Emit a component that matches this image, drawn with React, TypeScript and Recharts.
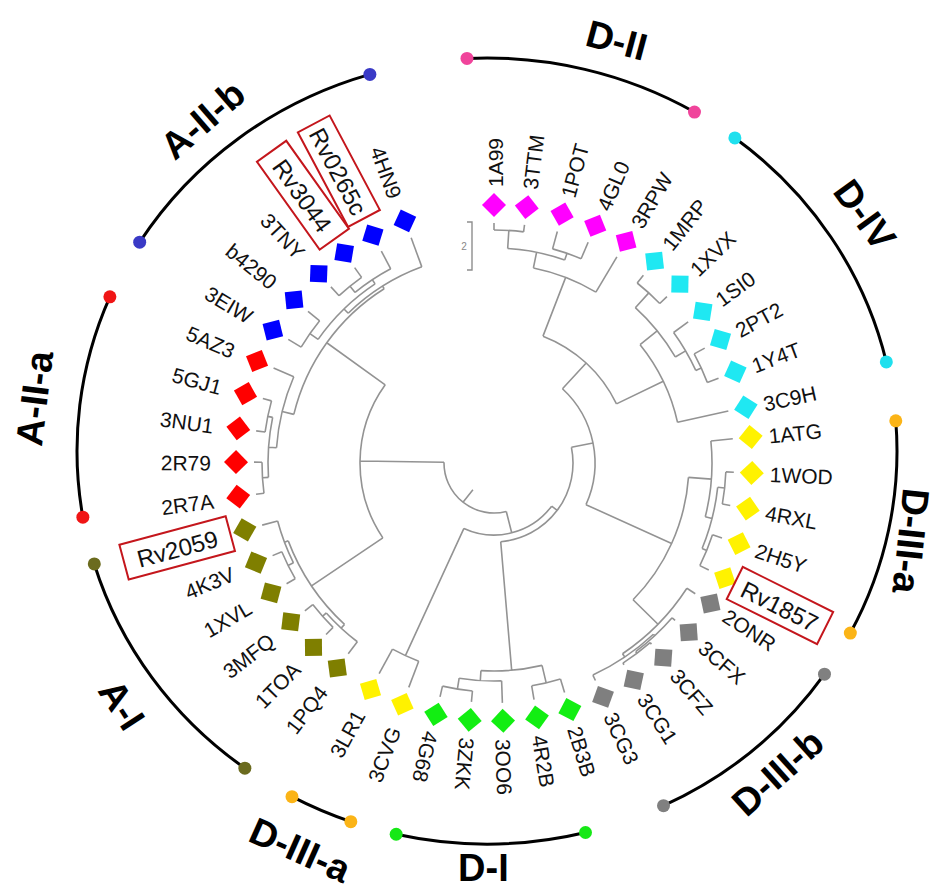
import React from 'react';
import { ScatterChart, Scatter, XAxis, YAxis } from 'recharts';

const WIDTH = 941;
const HEIGHT = 896;
const CENTER_X = 494;
const CENTER_Y = 463;
const RAD = Math.PI / 180;

// ---- leaves (clockwise from the top) ----
const leafNames = ['1A99', '3TTM', '1POT', '4GL0', '3RPW', '1MRP', '1XVX', '1SI0', '2PT2', '1Y4T', '3C9H',
  '1ATG', '1WOD', '4RXL', '2H5Y', 'Rv1857', '2ONR', '3CFX', '3CFZ', '3CG1', '3CG3',
  '2B3B', '4R2B', '3OO6', '3ZKK', '4G68', '3CVG', '3LR1', '1PQ4', '1TOA', '3MFQ', '1XVL', '4K3V', 'Rv2059',
  '2R7A', '2R79', '3NU1', '5GJ1', '5AZ3', '3EIW', 'b4290', '3TNY', 'Rv3044', 'Rv0265c', '4HN9'];
const leafAngles = [0, 7.3, 15.3, 23.1, 30.8, 38.5, 46.1, 54, 61.4, 69.3, 77.5,
  84.2, 92.2, 100.2, 108.2, 116.5, 123, 131, 139, 147.2, 155,
  162.9, 170.4, 178, 185.4, 193, 200.8, 208.6, 217.4, 224.4, 232, 239.8, 247.3, 255,
  262.5, 270.2, 277.7, 285.6, 293.3, 301, 309.2, 317.2, 324.5, 332, 339.8];
const leafClades = ['D-II', 'D-II', 'D-II', 'D-II', 'D-II', 'D-IV', 'D-IV', 'D-IV', 'D-IV', 'D-IV', 'D-IV',
  'D-III-a', 'D-III-a', 'D-III-a', 'D-III-a', 'D-III-a', 'D-III-b', 'D-III-b', 'D-III-b', 'D-III-b', 'D-III-b',
  'D-I', 'D-I', 'D-I', 'D-I', 'D-I', 'D-III-a', 'D-III-a', 'A-I', 'A-I', 'A-I', 'A-I', 'A-I', 'A-I',
  'A-II-a', 'A-II-a', 'A-II-a', 'A-II-a', 'A-II-a', 'A-II-b', 'A-II-b', 'A-II-b', 'A-II-b', 'A-II-b', 'A-II-b'];
const leafColors: Record<string, string> = {
  'D-II': '#FF00FF', 'D-IV': '#1FE8F2', 'D-III-a': '#FFF200', 'D-III-b': '#7F7F7F',
  'D-I': '#12EE12', 'A-I': '#7F7F00', 'A-II-a': '#FF0000', 'A-II-b': '#0000FF',
};

// highlighted labels with red boxes (box extent as radii)
const boxedNames = ['Rv1857', 'Rv2059', 'Rv3044', 'Rv0265c'];
const boxInnerR = [269, 273, 275, 277];
const boxOuterR = [370, 383, 383, 384];

// ---- tree: [node, radius, children] listed bottom-up ----
const treeNodes: [string, number, string[]][] = [
  ['n1', 233, ['1A99', '3TTM']],
  ['n2', 222, ['1POT', '4GL0']],
  ['n3', 215, ['n1', 'n2']],
  ['nDII', 199, ['n3', '3RPW']],
  ['n4', 230, ['1MRP', '1XVX']],
  ['n5', 228, ['2PT2', '1Y4T']],
  ['n6', 222, ['1SI0', 'n5']],
  ['n7', 210, ['n4', 'n6']],
  ['nDIV', 188, ['n7', '3C9H']],
  ['nTop', 136, ['nDII', 'nDIV']],
  ['n8', 232, ['1WOD', '4RXL']],
  ['n9', 230, ['2H5Y', 'Rv1857']],
  ['n10', 225, ['n8', 'n9']],
  ['nYel', 218, ['1ATG', 'n10']],
  ['n11', 238, ['3CFZ', '3CG1']],
  ['n12', 236, ['3CFX', 'n11']],
  ['n13', 234, ['n12', '3CG3']],
  ['nGray', 230, ['2ONR', 'n13']],
  ['nDIII', 195, ['nYel', 'nGray']],
  ['nR1', 101, ['nTop', 'nDIII']],
  ['n14', 229, ['3ZKK', '4G68']],
  ['n15', 218, ['3OO6', 'n14']],
  ['n16', 226, ['2B3B', '4R2B']],
  ['nDI', 208, ['n16', 'n15']],
  ['nR2', 79, ['nR1', 'nDI']],
  ['n17', 212, ['3CVG', '3LR1']],
  ['nR3', 72, ['nR2', 'n17']],
  ['n19', 230, ['1TOA', '3MFQ']],
  ['n18', 225, ['1PQ4', 'n19']],
  ['n20', 230, ['1XVL', '4K3V']],
  ['n21', 224, ['n20', 'Rv2059']],
  ['nAI', 220, ['n18', 'n21']],
  ['n22', 232, ['2R7A', '2R79']],
  ['n23', 231, ['3NU1', '5GJ1']],
  ['n24', 226, ['n22', 'n23']],
  ['nRed', 218, ['n24', '5AZ3']],
  ['n25', 225, ['3EIW', 'b4290']],
  ['n26', 228, ['3TNY', 'Rv3044']],
  ['n27', 220, ['n26', 'Rv0265c']],
  ['n28', 215, ['n25', 'n27']],
  ['nBlue', 209, ['n28', '4HN9']],
  ['nAII', 206, ['nRed', 'nBlue']],
  ['nX', 134, ['nAI', 'nAII']],
  ['root', 50, ['nR3', 'nX']],
];
const LEAF_TIP_R = 240;
const ROOT_STUB_R = 34;

// ---- clade arcs (elliptical, angles are parametric, clockwise from top) ----
const cladeNames = ['D-II', 'D-IV', 'D-III-a', 'D-III-b', 'D-I', 'D-III-a', 'A-I', 'A-II-a', 'A-II-b'];
const cladeArcStart = [-2.8, 37.2, 85.6, 124.6, 166.1, 199.4, 216.2, 260.3, 302.1];
const cladeArcEnd = [30.4, 76.9, 117.6, 154.5, 192.8, 208.4, 253.3, 293.1, 343.4];
const cladeDotColors = ['#F0449B', '#1FE0EE', '#FBB417', '#808080', '#16E816', '#FBB417', '#6B6B1E', '#F01515', '#3A3AC6'];
const cladeLabelAngle = [16.2, 56.2, 100.6, 137.5, 181.5, 206.6, 237, 278, 319.7];
const cladeLabelRadius = [440, 446, 424, 420, 405, 433, 444, 464, 450];
const cladeLabelRotation = [15, 54, 96, -42, 0, 24, 57, -83, -41];
const ARC_CENTER = { x: -7, y: 12 };
const ARC_RX = 410;
const ARC_RY = 393;

// scale bar
const scaleBarValue = '2';
const scaleBarLength = 48;

// ---------------- layout ----------------
const angleOf = new Map<string, number>();
const radiusOf = new Map<string, number>();
const parentR = new Map<string, number>();
leafNames.forEach((n, i) => { angleOf.set(n, leafAngles[i]); radiusOf.set(n, LEAF_TIP_R); });
const arcSpan = new Map<string, [number, number]>();
treeNodes.forEach(([id, r, kids]) => {
  const angs = kids.map((k) => angleOf.get(k) as number);
  const a0 = Math.min(...angs);
  const a1 = Math.max(...angs);
  angleOf.set(id, (a0 + a1) / 2);
  radiusOf.set(id, r);
  arcSpan.set(id, [a0, a1]);
  kids.forEach((k) => parentR.set(k, r));
});
parentR.set('root', ROOT_STUB_R);

const branchData = [...leafNames, ...treeNodes.map((t) => t[0])].map((id) => {
  const a = angleOf.get(id) as number;
  const r = radiusOf.get(id) as number;
  const span = arcSpan.get(id);
  return {
    id, a, r, pr: parentR.get(id) as number,
    a0: span ? span[0] : null, a1: span ? span[1] : null,
    x: r * Math.sin(a * RAD), y: r * Math.cos(a * RAD),
  };
});

const DIAMOND_R = 258;
const LABEL_R_OUT = 276;
const LABEL_R_IN = 283;

const diamondData = leafNames.map((n, i) => ({
  name: n, a: leafAngles[i], color: leafColors[leafClades[i]],
  x: DIAMOND_R * Math.sin(leafAngles[i] * RAD), y: DIAMOND_R * Math.cos(leafAngles[i] * RAD),
}));

const labelData = leafNames.map((n, i) => {
  const a = leafAngles[i];
  const flip = a > 196 && a < 350;
  const lr = flip ? LABEL_R_IN : LABEL_R_OUT;
  const bi = boxedNames.indexOf(n);
  return {
    name: n, a, flip, lr, boxed: bi >= 0,
    bIn: bi >= 0 ? boxInnerR[bi] : 0, bOut: bi >= 0 ? boxOuterR[bi] : 0,
    x: lr * Math.sin(a * RAD), y: lr * Math.cos(a * RAD),
  };
});

const arcData = cladeNames.map((n, i) => ({
  name: n, a0: cladeArcStart[i], a1: cladeArcEnd[i], x: ARC_CENTER.x, y: ARC_CENTER.y,
}));
const dotData = cladeNames.flatMap((n, i) => [cladeArcStart[i], cladeArcEnd[i]].map((t) => ({
  name: n, color: cladeDotColors[i],
  x: ARC_CENTER.x + ARC_RX * Math.sin(t * RAD), y: ARC_CENTER.y + ARC_RY * Math.cos(t * RAD),
})));
const cladeLabelData = cladeNames.map((n, i) => ({
  name: n, rot: cladeLabelRotation[i],
  x: cladeLabelRadius[i] * Math.sin(cladeLabelAngle[i] * RAD),
  y: cladeLabelRadius[i] * Math.cos(cladeLabelAngle[i] * RAD),
}));
const scaleData = [{ x: -22, y: 217, label: scaleBarValue, len: scaleBarLength }];

// ---------------- shapes ----------------
const FONT = 'Arial, "Liberation Sans", Helvetica, sans-serif';
const pt = (ox: number, oy: number, r: number, a: number) => [ox + r * Math.sin(a * RAD), oy - r * Math.cos(a * RAD)];

const BranchShape = (props: any) => {
  const { cx, cy, payload } = props;
  const ox = cx - payload.x;
  const oy = cy + payload.y;
  const [x1, y1] = pt(ox, oy, payload.pr, payload.a);
  const [x2, y2] = pt(ox, oy, payload.r, payload.a);
  let d = `M${x1},${y1}L${x2},${y2}`;
  if (payload.a0 !== null) {
    const [ax, ay] = pt(ox, oy, payload.r, payload.a0);
    const [bx, by] = pt(ox, oy, payload.r, payload.a1);
    const large = payload.a1 - payload.a0 > 180 ? 1 : 0;
    d += `M${ax},${ay}A${payload.r},${payload.r} 0 ${large} 1 ${bx},${by}`;
  }
  return <path d={d} stroke="#939393" strokeWidth={1.6} fill="none" />;
};

const DiamondShape = (props: any) => {
  const { cx, cy, payload } = props;
  const s = 17;
  return (
    <rect x={cx - s / 2} y={cy - s / 2} width={s} height={s} fill={payload.color}
      transform={`rotate(${payload.a + 45} ${cx} ${cy})`} />
  );
};

const LabelShape = (props: any) => {
  const { cx, cy, payload } = props;
  const rot = payload.flip ? payload.a - 270 : payload.a - 90;
  const dir = payload.flip ? -1 : 1;
  if (payload.boxed) {
    const u1 = dir * (payload.bIn - payload.lr);
    const u2 = dir * (payload.bOut - payload.lr);
    const um = (u1 + u2) / 2;
    return (
      <g transform={`translate(${cx},${cy}) rotate(${rot})`}>
        <rect x={Math.min(u1, u2)} y={-18} width={Math.abs(u2 - u1)} height={36} fill="none" stroke="#C4161C" strokeWidth={2} />
        <text x={um} y={1} textAnchor="middle" dominantBaseline="central" fontSize={24} fontFamily={FONT} fill="#111">{payload.name}</text>
      </g>
    );
  }
  return (
    <g transform={`translate(${cx},${cy}) rotate(${rot})`}>
      <text x={0} y={1} textAnchor={payload.flip ? 'end' : 'start'} dominantBaseline="central" fontSize={21} fontFamily={FONT} fill="#111">{payload.name}</text>
    </g>
  );
};

const ArcShape = (props: any) => {
  const { cx, cy, payload } = props;
  const p0 = [cx + ARC_RX * Math.sin(payload.a0 * RAD), cy - ARC_RY * Math.cos(payload.a0 * RAD)];
  const p1 = [cx + ARC_RX * Math.sin(payload.a1 * RAD), cy - ARC_RY * Math.cos(payload.a1 * RAD)];
  const large = payload.a1 - payload.a0 > 180 ? 1 : 0;
  return <path d={`M${p0[0]},${p0[1]}A${ARC_RX},${ARC_RY} 0 ${large} 1 ${p1[0]},${p1[1]}`} stroke="#000" strokeWidth={3} fill="none" />;
};

const DotShape = (props: any) => {
  const { cx, cy, payload } = props;
  return <circle cx={cx} cy={cy} r={6.5} fill={payload.color} />;
};

const CladeLabelShape = (props: any) => {
  const { cx, cy, payload } = props;
  return (
    <text x={cx} y={cy} textAnchor="middle" dominantBaseline="central" fontSize={38} fontWeight="bold"
      fontFamily={FONT} fill="#000" transform={`rotate(${payload.rot} ${cx} ${cy})`}>{payload.name}</text>
  );
};

const ScaleShape = (props: any) => {
  const { cx, cy, payload } = props;
  const h = payload.len / 2;
  return (
    <g>
      <path d={`M${cx - 5},${cy - h}H${cx}V${cy + h}H${cx - 5}`} stroke="#8E8E8E" strokeWidth={1.4} fill="none" />
      <text x={cx - 8} y={cy} textAnchor="middle" dominantBaseline="central" fontSize={10} fontFamily={FONT} fill="#888">{payload.label}</text>
    </g>
  );
};

export default function App() {
  return (
    <div style={{ position: 'absolute', left: 0, top: 0, width: WIDTH, height: HEIGHT, background: '#fff' }}>
      <ScatterChart width={WIDTH} height={HEIGHT} margin={{ top: 0, right: 0, bottom: 0, left: 0 }}>
        <XAxis type="number" dataKey="x" domain={[-CENTER_X, WIDTH - CENTER_X]} hide allowDataOverflow />
        <YAxis type="number" dataKey="y" domain={[-(HEIGHT - CENTER_Y), CENTER_Y]} hide allowDataOverflow />
        <Scatter data={branchData} shape={BranchShape} isAnimationActive={false} />
        <Scatter data={diamondData} shape={DiamondShape} isAnimationActive={false} />
        <Scatter data={labelData} shape={LabelShape} isAnimationActive={false} />
        <Scatter data={arcData} shape={ArcShape} isAnimationActive={false} />
        <Scatter data={dotData} shape={DotShape} isAnimationActive={false} />
        <Scatter data={cladeLabelData} shape={CladeLabelShape} isAnimationActive={false} />
        <Scatter data={scaleData} shape={ScaleShape} isAnimationActive={false} />
      </ScatterChart>
    </div>
  );
}
